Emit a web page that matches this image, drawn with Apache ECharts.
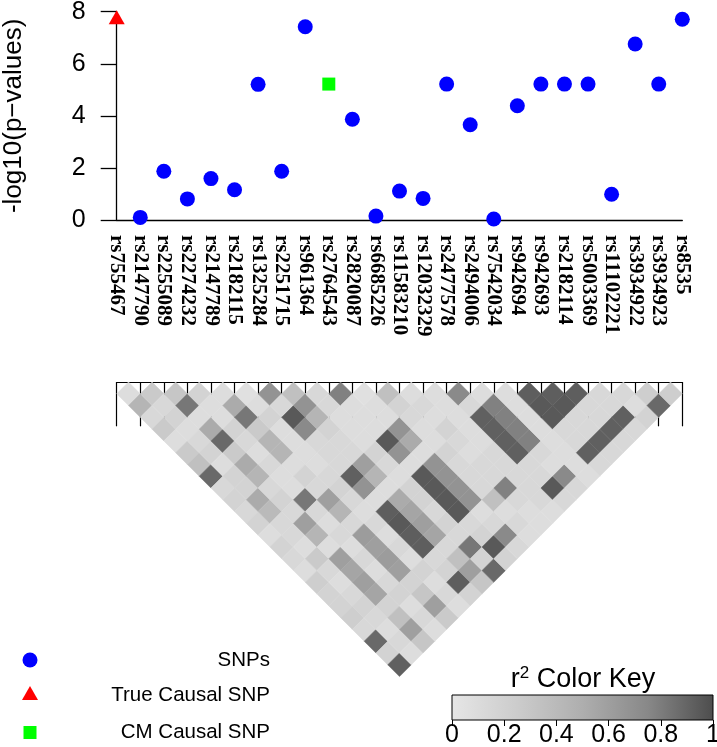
<!DOCTYPE html>
<html><head><meta charset="utf-8">
<script src="https://cdn.jsdelivr.net/npm/echarts@6/dist/echarts.min.js"></script>
<style>html,body{margin:0;padding:0;background:#fff}#c{width:717px;height:747px}</style>
</head><body><div id="c"></div>
<script>
// ---------- data ----------
const snpNames = ['rs755467','rs2147790','rs2255089','rs2274232','rs2147789','rs2182115','rs1325284','rs2251715','rs961364','rs2764543','rs2820087','rs6685226','rs11583210','rs12032329','rs2477578','rs2494006','rs7542034','rs942694','rs942693','rs2182114','rs5003369','rs11102221','rs3934922','rs3934923','rs8535'];
const negLogP = [7.70,0.10,1.87,0.81,1.59,1.16,5.21,1.87,7.42,5.22,3.87,0.15,1.11,0.83,5.22,3.66,0.04,4.39,5.22,5.22,5.22,0.99,6.76,5.22,7.71];
const trueCausalSnp = 'rs755467';
const cmCausalSnp = 'rs2764543';
const keyTicks = [0, 0.2, 0.4, 0.6, 0.8, 1];
// r^2 between SNP i and SNPs j = i+1 .. 24 (row i)
const ldR2 = [
 [.09,.44,.13,.27,.09,.27,.35,.88,.13,.18,.13,.18,.09,.18,.13,.09,.23,.18,.18,.23,.13,.88,.18,.92],
 [.27,.13,.18,.09,.13,.18,.09,.18,.18,.52,.40,.13,.13,.09,.27,.13,.09,.13,.18,.13,.09,.13,.09],
 [.30,.82,.09,.52,.88,.27,.52,.44,.13,.18,.13,.60,.44,.09,.60,.56,.60,.56,.18,.35,.60,.30],
 [.18,.09,.09,.18,.13,.09,.13,.09,.09,.82,.13,.09,.13,.09,.13,.09,.13,.18,.09,.13,.09],
 [.09,.52,.82,.27,.44,.44,.09,.18,.13,.60,.44,.13,.62,.60,.62,.60,.18,.30,.60,.27],
 [.06,.09,.18,.09,.09,.09,.09,.13,.18,.13,.09,.13,.09,.13,.09,.18,.09,.13,.09],
 [.68,.13,.95,.74,.13,.13,.13,.92,.68,.09,.93,.95,.93,.93,.13,.18,.93,.18],
 [.35,.68,.44,.18,.13,.13,.60,.44,.09,.52,.56,.60,.56,.13,.35,.60,.30],
 [.13,.13,.09,.09,.09,.18,.13,.09,.18,.18,.13,.18,.13,.82,.18,.88],
 [.78,.09,.09,.09,.95,.68,.09,.95,.95,.95,.95,.13,.18,.95,.18],
 [.06,.09,.09,.68,.52,.09,.68,.68,.68,.68,.09,.13,.74,.13],
 [.35,.18,.13,.09,.09,.18,.13,.13,.13,.35,.09,.13,.09],
 [.09,.13,.09,.18,.13,.09,.13,.13,.78,.13,.09,.09],
 [.09,.09,.09,.09,.09,.13,.13,.13,.13,.13,.09],
 [.74,.13,.92,.92,.92,.92,.13,.13,.95,.13],
 [.09,.78,.78,.78,.78,.13,.09,.74,.13],
 [.09,.09,.09,.09,.09,.09,.09,.09],
 [.93,.95,.95,.13,.13,.92,.13],
 [.93,.95,.13,.13,.92,.13],
 [.93,.13,.13,.92,.13],
 [.13,.13,.92,.13],
 [.13,.09,.18],
 [.23,.88],
 [.23]
];
const greyStops = ['#e6e6e6','#cccccc','#aeaeae','#888888','#4d4d4d'];

// ---------- build ----------
const n = snpNames.length;
const snpPts = [], truePts = [], cmPts = [];
for (let i = 0; i < n; i++) {
  if (snpNames[i] === trueCausalSnp) truePts.push([i, negLogP[i]]);
  else if (snpNames[i] === cmCausalSnp) cmPts.push([i, negLogP[i]]);
  else snpPts.push([i, negLogP[i]]);
}
const heat = [];
ldR2.forEach((row, i) => row.forEach((v, k) => {
  const j = i + 1 + k;
  heat.push([(i + j) / 2, (j - i) / 2, v]);
}));

const L = 116.7, W = 565.6, S = W / (n - 1);
const SANS = '"Liberation Sans", Arial, sans-serif';
const chart = echarts.init(document.getElementById('c'), null, {renderer: 'canvas'});
const hidden = {show: false};
const txt = (t, x, y, size) => ({type: 'text', x: x, y: y, style: {text: t, font: size + 'px ' + SANS, fill: '#000',
  align: 'right', verticalAlign: 'middle', textAlign: 'right', textVerticalAlign: 'middle'}});
chart.setOption({
  animation: false,
  backgroundColor: '#fff',
  grid: [
    {left: L, top: 11.7, width: W, height: 208.3, outerBoundsMode: 'none'},
    {left: L, top: 337.7, width: W, height: 44.3, outerBoundsMode: 'none'},
    {left: L, top: 382, width: W, height: 12.5 * S, outerBoundsMode: 'none'},
    {left: 452, top: 695, width: 261, height: 25, outerBoundsMode: 'none'}
  ],
  xAxis: [
    {gridIndex: 0, type: 'value', min: 0, max: n - 1, axisLine: {show: true, onZero: false, lineStyle: {color: '#000', width: 1.3}},
     axisTick: hidden, axisLabel: hidden, splitLine: hidden},
    {gridIndex: 0, type: 'category', data: snpNames, position: 'bottom', offset: 0, boundaryGap: false,
     axisLine: hidden, axisTick: hidden, splitLine: hidden,
     axisLabel: {interval: 0, rotate: -90, margin: 15, color: '#000', fontFamily: '"Liberation Serif", "Times New Roman", serif', fontWeight: 'bold', fontSize: 21}},
    {gridIndex: 1, type: 'category', data: snpNames, position: 'top', boundaryGap: false,
     axisLine: {show: true, lineStyle: {color: '#000', width: 1.2}},
     axisTick: {show: true, inside: true, length: 44.3, interval: 0, lineStyle: {color: '#000', width: 1.2}},
     axisLabel: hidden, splitLine: hidden},
    {gridIndex: 2, type: 'value', min: 0, max: n - 1, show: false},
    {gridIndex: 3, type: 'value', min: 0, max: 1, interval: 0.2, position: 'bottom',
     axisLine: hidden, splitLine: hidden,
     axisTick: {show: true, length: 6, lineStyle: {color: '#000', width: 1}},
     axisLabel: {show: true, margin: 3, color: '#000', fontFamily: SANS, fontSize: 25,
       customValues: keyTicks}}
  ],
  yAxis: [
    {gridIndex: 0, type: 'value', min: 0, max: 8, interval: 2,
     axisLine: {show: true, onZero: false, lineStyle: {color: '#000', width: 1.3}},
     axisTick: {show: true, length: 16, lineStyle: {color: '#000', width: 1.3}},
     axisLabel: {margin: 31, color: '#000', fontFamily: SANS, fontSize: 25},
     splitLine: hidden,
     name: '-log10(p\u2212values)', nameLocation: 'middle', nameGap: 90, nameRotate: 90,
     nameTextStyle: {color: '#000', fontFamily: SANS, fontSize: 26}},
    {gridIndex: 1, type: 'value', show: false},
    {gridIndex: 2, type: 'value', min: 0, max: 12.5, inverse: true, show: false},
    {gridIndex: 3, type: 'value', min: 0, max: 1, show: false}
  ],
  visualMap: {show: false, type: 'continuous', min: 0, max: 1, dimension: 2, seriesIndex: 3,
    inRange: {color: greyStops}},
  series: [
    {type: 'scatter', name: 'SNPs', xAxisIndex: 0, yAxisIndex: 0, data: snpPts,
     symbol: 'circle', symbolSize: 15, itemStyle: {color: '#0000ff', opacity: 1}, silent: true},
    {type: 'scatter', name: 'True Causal SNP', xAxisIndex: 0, yAxisIndex: 0, data: truePts,
     symbol: 'triangle', symbolSize: [16, 14], symbolOffset: [0, -2.3], itemStyle: {color: '#ff0000', opacity: 1}, silent: true},
    {type: 'scatter', name: 'CM Causal SNP', xAxisIndex: 0, yAxisIndex: 0, data: cmPts,
     symbol: 'rect', symbolSize: 13, itemStyle: {color: '#00ff00', opacity: 1}, silent: true},
    {type: 'custom', name: 'LD', xAxisIndex: 3, yAxisIndex: 2, data: heat, silent: true, clip: false,
     encode: {x: 0, y: 1},
     renderItem: function (params, api) {
       const cx = api.value(0), cy = api.value(1);
       const pts = [api.coord([cx - 0.5, cy]), api.coord([cx, cy - 0.5]), api.coord([cx + 0.5, cy]), api.coord([cx, cy + 0.5])];
       const c = api.visual('color');
       return {type: 'polygon', shape: {points: pts}, style: {fill: c, stroke: c, lineWidth: 0.5}};
     }},
    {type: 'custom', name: 'key', xAxisIndex: 4, yAxisIndex: 3, data: [[0, 0]], silent: true, clip: false,
     renderItem: function (params, api) {
       const a = api.coord([0, 1]), b = api.coord([1, 0]);
       return {type: 'rect', shape: {x: a[0], y: a[1], width: b[0] - a[0], height: b[1] - a[1]},
         style: {fill: new echarts.graphic.LinearGradient(0, 0, 1, 0,
           greyStops.map((c, k) => ({offset: k / (greyStops.length - 1), color: c}))), stroke: '#000', lineWidth: 1}};
     }}
  ],
  graphic: [
    {type: 'circle', shape: {cx: 30, cy: 660, r: 7.5}, style: {fill: '#0000ff'}},
    {type: 'polygon', shape: {points: [[30, 686], [38, 700], [22, 700]]}, style: {fill: '#ff0000'}},
    {type: 'rect', shape: {x: 23.5, y: 726, width: 13, height: 13}, style: {fill: '#00ff00'}},
    txt('SNPs', 270, 660, 20.5),
    txt('True Causal SNP', 270, 695, 20.5),
    txt('CM Causal SNP', 270, 732, 20.5),
    {type: 'text', x: 583, y: 680, style: {text: '{a|r}{b|2}{a| Color Key}', align: 'center', verticalAlign: 'middle', textAlign: 'center', textVerticalAlign: 'middle',
      rich: {a: {fontSize: 27, fontFamily: SANS, fill: '#000', color: '#000'}, b: {fontSize: 17, fontFamily: SANS, fill: '#000', color: '#000', padding: [0, 0, 13, 0]}}}}
  ]
});
</script></body></html>
